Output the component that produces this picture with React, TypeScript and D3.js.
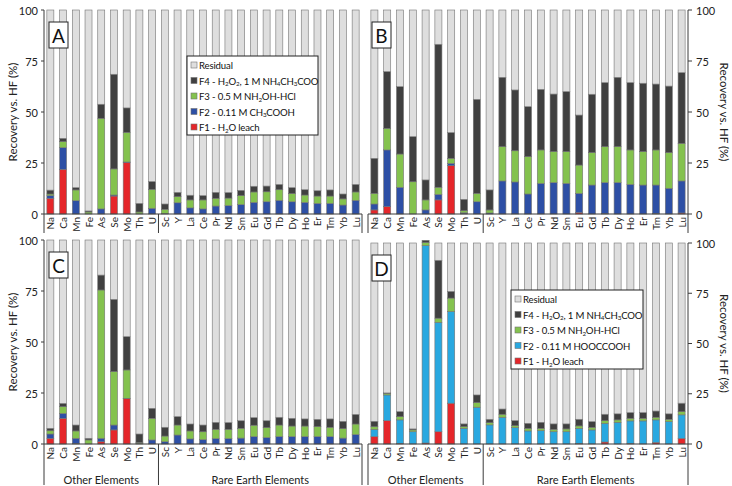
import React from 'react';
import * as d3 from 'd3';

// Element categories, split into the two groups shown under the axis
const otherElements = ['Na', 'Ca', 'Mn', 'Fe', 'As', 'Se', 'Mo', 'Th', 'U'];
const rareEarths = ['Sc', 'Y', 'La', 'Ce', 'Pr', 'Nd', 'Sm', 'Eu', 'Gd', 'Tb', 'Dy', 'Ho', 'Er', 'Tm', 'Yb', 'Lu'];
const categories = [...otherElements, ...rareEarths];
const groupNames = ['Other Elements', 'Rare Earth Elements'];
const yTicks = [0, 25, 50, 75, 100];

// Recovery vs. HF (%) for each sequential extraction fraction
const aF1 = [7.7, 21.9, 0, 0, 0, 8.8, 25.2, 0, 0, 0, 0, 0, 0, 0, 0, 0, 0, 0, 0, 0, 0, 0, 0, 0, 0];
const aF2 = [1.3, 10.6, 6.5, 0, 2.5, 0.5, 0.3, 0, 2.8, 0.2, 5.5, 3.0, 2.5, 3.9, 4.1, 4.6, 5.7, 6.0, 6.7, 6.0, 5.7, 5.2, 5.2, 4.4, 6.7];
const aF3 = [0.8, 3.0, 5.3, 1.0, 44.4, 12.8, 14.5, 1.0, 9.3, 2.1, 3.0, 3.9, 4.4, 3.8, 3.7, 4.4, 5.1, 4.9, 5.2, 4.0, 3.6, 3.6, 3.6, 3.0, 4.1];
const aF4 = [1.9, 1.6, 1.1, 0.5, 6.9, 46.4, 12.0, 4.2, 3.8, 2.6, 2.1, 2.3, 2.1, 2.9, 2.7, 2.6, 2.8, 2.8, 2.6, 2.9, 2.6, 2.6, 3.0, 2.4, 3.7];

const bF1 = [2.0, 3.6, 0, 0, 0, 6.9, 23.7, 0.3, 0, 0, 0, 0, 0, 0, 0, 0, 0.7, 0, 0.2, 0, 0, 0, 0.3, 0, 0.5];
const bF2 = [2.9, 27.8, 13.1, 0, 2.0, 2.7, 1.1, 0.3, 6.0, 0.5, 16.2, 15.7, 9.8, 15.0, 15.4, 15.0, 9.4, 14.2, 15.2, 15.4, 14.5, 14.2, 13.9, 12.6, 15.7];
const bF3 = [5.2, 10.6, 16.3, 15.8, 4.9, 3.5, 2.5, 1.0, 4.1, 1.5, 16.8, 15.3, 18.3, 16.4, 15.2, 15.6, 13.9, 15.9, 17.6, 17.6, 16.9, 16.4, 17.2, 17.5, 18.4];
const bF4 = [17.2, 27.8, 33.0, 22.1, 9.8, 70.1, 12.6, 5.6, 46.1, 9.8, 34.0, 29.8, 24.5, 29.7, 28.2, 29.4, 24.5, 28.6, 31.4, 34.0, 33.0, 33.5, 32.3, 32.6, 34.7];

const cF1 = [2.8, 12.6, 0.3, 0, 1.1, 6.9, 22.2, 0, 0, 0, 0, 0, 0, 0, 0, 0, 0, 0, 0, 0, 0, 0, 0, 0, 0];
const cF2 = [2.1, 2.4, 2.5, 0, 1.7, 2.4, 0.2, 0.3, 2.0, 1.1, 4.4, 2.5, 2.1, 2.6, 2.6, 2.9, 3.6, 3.1, 3.6, 3.6, 3.6, 3.6, 3.6, 2.9, 4.6];
const cF3 = [1.6, 3.3, 3.6, 2.0, 72.7, 26.2, 13.9, 0.4, 10.6, 2.8, 4.9, 3.9, 3.9, 4.6, 4.6, 4.8, 5.6, 4.9, 5.7, 5.2, 5.2, 4.9, 4.6, 4.6, 5.2];
const cF4 = [1.2, 1.6, 2.9, 0.8, 7.3, 35.4, 16.3, 4.2, 4.9, 4.3, 4.1, 3.4, 3.3, 3.4, 3.3, 3.7, 3.7, 3.4, 3.8, 3.8, 3.5, 3.6, 4.1, 3.6, 4.7];

const dF1 = [3.7, 11.6, 0.3, 0, 0.5, 6.1, 20.3, 0, 0, 0, 0, 0, 0, 0, 0, 0, 0.3, 0, 1.0, 0, 0.3, 0, 0.8, 0, 2.8];
const dF2 = [3.6, 12.8, 11.7, 6.1, 98.2, 54.4, 45.6, 7.8, 18.3, 9.5, 13.3, 8.1, 6.5, 6.6, 6.1, 6.1, 7.5, 7.0, 9.3, 10.8, 11.2, 11.5, 11.2, 11.1, 11.7];
const dF3 = [1.3, 0.8, 1.6, 0.9, 1.6, 2.1, 6.7, 0.8, 2.3, 1.1, 1.5, 1.0, 1.3, 1.2, 1.2, 1.4, 1.2, 1.3, 1.3, 1.2, 1.3, 1.3, 1.3, 1.2, 1.6];
const dF4 = [2.7, 0.2, 2.5, 0.5, 1.0, 28.8, 3.3, 1.4, 3.8, 1.7, 2.6, 2.5, 2.5, 3.0, 2.7, 2.5, 3.3, 2.8, 3.2, 3.0, 2.8, 2.8, 3.1, 2.7, 4.2];

const keys = ['F1', 'F2', 'F3', 'F4', 'Residual'];
const FONT = 'Lato, "Open Sans", sans-serif';
const AXIS = '#3a3a3a';
const BAR_STROKE = '#747474';
const baseColors: Record<string, string> = {
  F1: '#e5262a',
  F3: '#84c24e',
  F4: '#404040',
  Residual: '#dedede',
};

type Seg = { t: string; sub?: boolean };
const legendRows = (f2: Seg[]): { key: string; segs: Seg[] }[] => [
  { key: 'Residual', segs: [{ t: 'Residual' }] },
  { key: 'F4', segs: [{ t: 'F4 - H' }, { t: '2', sub: true }, { t: 'O' }, { t: '2', sub: true }, { t: ', 1 M NH' }, { t: '4', sub: true }, { t: 'CH' }, { t: '3', sub: true }, { t: 'COO' }] },
  { key: 'F3', segs: [{ t: 'F3 - 0.5 M NH' }, { t: '2', sub: true }, { t: 'OH-HCl' }] },
  { key: 'F2', segs: f2 },
  { key: 'F1', segs: [{ t: 'F1 - H' }, { t: '2', sub: true }, { t: 'O leach' }] },
];
const aceticLabel: Seg[] = [{ t: 'F2 - 0.11 M CH' }, { t: '3', sub: true }, { t: 'COOH' }];
const oxalicLabel: Seg[] = [{ t: 'F2 - 0.11 M HOOCCOOH' }];

function RichText({ segs, x, y, size }: { segs: Seg[]; x: number; y: number; size: number }) {
  return (
    <text x={x} y={y} fontSize={size} fontFamily={FONT} fill="#111" dominantBaseline="central" letterSpacing={-0.15}>
      {segs.map((s, i) =>
        s.sub ? (
          <tspan key={i} fontSize={size * 0.65} dy={2.5}>{s.t}</tspan>
        ) : (
          <tspan key={i} dy={i > 0 && segs[i - 1].sub ? -2.5 : 0}>{s.t}</tspan>
        )
      )}
    </text>
  );
}

type PanelProps = {
  label: string;
  f1: number[]; f2: number[]; f3: number[]; f4: number[];
  x0: number; x1: number; yTop: number; yBot: number;
  side: 'left' | 'right';
  showGroups: boolean;
  blue: string;
  legend?: { x: number; y: number; w: number; h: number; f2: Seg[] };
};

function Panel(p: PanelProps) {
  const x = d3.scaleBand<string>().domain(categories).range([p.x0, p.x1]).paddingInner(0.45).paddingOuter(0.225);
  const y = d3.scaleLinear().domain([0, 100]).range([p.yBot, p.yTop]);
  const colors: Record<string, string> = { ...baseColors, F2: p.blue };

  const rows = categories.map((cat, i) => {
    const sum = p.f1[i] + p.f2[i] + p.f3[i] + p.f4[i];
    return { cat, F1: p.f1[i], F2: p.f2[i], F3: p.f3[i], F4: p.f4[i], Residual: Math.max(0, 100 - sum) };
  });
  const series = d3.stack<any>().keys(keys)(rows);

  const dividers = [p.x0, (x(otherElements[otherElements.length - 1])! + x(rareEarths[0])! + x.bandwidth()) / 2, p.x1];
  const divBottom = p.showGroups ? p.yBot + 41 : p.yBot + 19;
  const axisX = p.side === 'left' ? p.x0 : p.x1;
  const midY = (p.yTop + p.yBot) / 2;

  return (
    <g>
      {series.map((s) => (
        <g key={s.key} fill={colors[s.key]}>
          {s.map((d: any, i: number) => {
            const h = y(d[0]) - y(d[1]);
            if (h <= 0) return null;
            return (
              <rect key={i} x={x(rows[i].cat)} y={y(d[1])} width={x.bandwidth()} height={h}
                stroke={BAR_STROKE} strokeWidth={0.6} />
            );
          })}
        </g>
      ))}

      {/* value axis */}
      <line x1={axisX} x2={axisX} y1={p.yTop} y2={p.yBot} stroke={AXIS} />
      {yTicks.map((t) => (
        <g key={t}>
          <line x1={axisX} x2={p.side === 'left' ? axisX - 3 : axisX + 4} y1={y(t)} y2={y(t)} stroke={AXIS} />
          <text x={p.side === 'left' ? axisX - 6 : axisX + 8} y={y(t)} fontSize={11} fontFamily={FONT} fill="#222"
            textAnchor={p.side === 'left' ? 'end' : 'start'} dominantBaseline="central">{t}</text>
        </g>
      ))}
      <text transform={p.side === 'left' ? `translate(12,${midY}) rotate(-90)` : `translate(724,${midY}) rotate(90)`}
        fontSize={11.5} fontFamily={FONT} fill="#222" textAnchor="middle" dominantBaseline="central">
        Recovery vs. HF (%)
      </text>

      {/* category axis */}
      <line x1={p.x0} x2={p.x1} y1={p.yBot} y2={p.yBot} stroke={AXIS} />
      {dividers.map((dx, i) => (
        <line key={i} x1={dx} x2={dx} y1={p.yBot} y2={divBottom} stroke={AXIS} />
      ))}
      {categories.map((c) => (
        <text key={c} transform={`translate(${x(c)! + x.bandwidth() / 2},${p.yBot + 3}) rotate(-90)`}
          fontSize={10} fontFamily={FONT} fill="#222" textAnchor="end" dominantBaseline="central">{c}</text>
      ))}
      {p.showGroups &&
        groupNames.map((g, i) => (
          <text key={g} x={(dividers[i] + dividers[i + 1]) / 2} y={p.yBot + 35} fontSize={11} fontFamily={FONT}
            fill="#222" textAnchor="middle" dominantBaseline="central">{g}</text>
        ))}

      {/* panel letter */}
      <rect x={p.x0 + 5 + (p.side === 'right' ? -1 : 0)} y={p.yTop + 12} width={19} height={26} fill="#fff" stroke="#222" />
      <text x={p.x0 + 14.5 + (p.side === 'right' ? -1 : 0)} y={p.yTop + 25.5} fontSize={19} fontFamily={FONT} fill="#111"
        textAnchor="middle" dominantBaseline="central">{p.label}</text>

      {p.legend && (
        <g>
          <rect x={p.legend.x} y={p.legend.y} width={p.legend.w} height={p.legend.h} fill="#fff" stroke="#222" />
          {legendRows(p.legend.f2).map((r, i) => {
            const ly = p.legend!.y + 9 + i * 15.5;
            return (
              <g key={r.key}>
                <rect x={p.legend!.x + 4} y={ly - 3} width={6} height={6} fill={colors[r.key]} stroke={BAR_STROKE} strokeWidth={0.6} />
                <RichText segs={r.segs} x={p.legend!.x + 12} y={ly} size={9.6} />
              </g>
            );
          })}
        </g>
      )}
    </g>
  );
}

export default function App() {
  return (
    <svg width={732} height={486} style={{ position: 'fixed', left: 0, top: 0, background: '#fff' }}>
      <rect width={732} height={486} fill="#fff" />
      <Panel label="A" f1={aF1} f2={aF2} f3={aF3} f4={aF4} x0={44} x1={362} yTop={10} yBot={214}
        side="left" showGroups={false} blue="#2d4fa5"
        legend={{ x: 187, y: 56, w: 131, h: 79, f2: aceticLabel }} />
      <Panel label="B" f1={bF1} f2={bF2} f3={bF3} f4={bF4} x0={368} x1={688} yTop={10} yBot={214}
        side="right" showGroups={false} blue="#2d4fa5" />
      <Panel label="C" f1={cF1} f2={cF2} f3={cF3} f4={cF4} x0={44} x1={362} yTop={240} yBot={444}
        side="left" showGroups={true} blue="#2d4fa5" />
      <Panel label="D" f1={dF1} f2={dF2} f3={dF3} f4={dF4} x0={368} x1={688} yTop={243} yBot={444}
        side="right" showGroups={true} blue="#29a8e0"
        legend={{ x: 511, y: 290, w: 132, h: 79, f2: oxalicLabel }} />
    </svg>
  );
}
